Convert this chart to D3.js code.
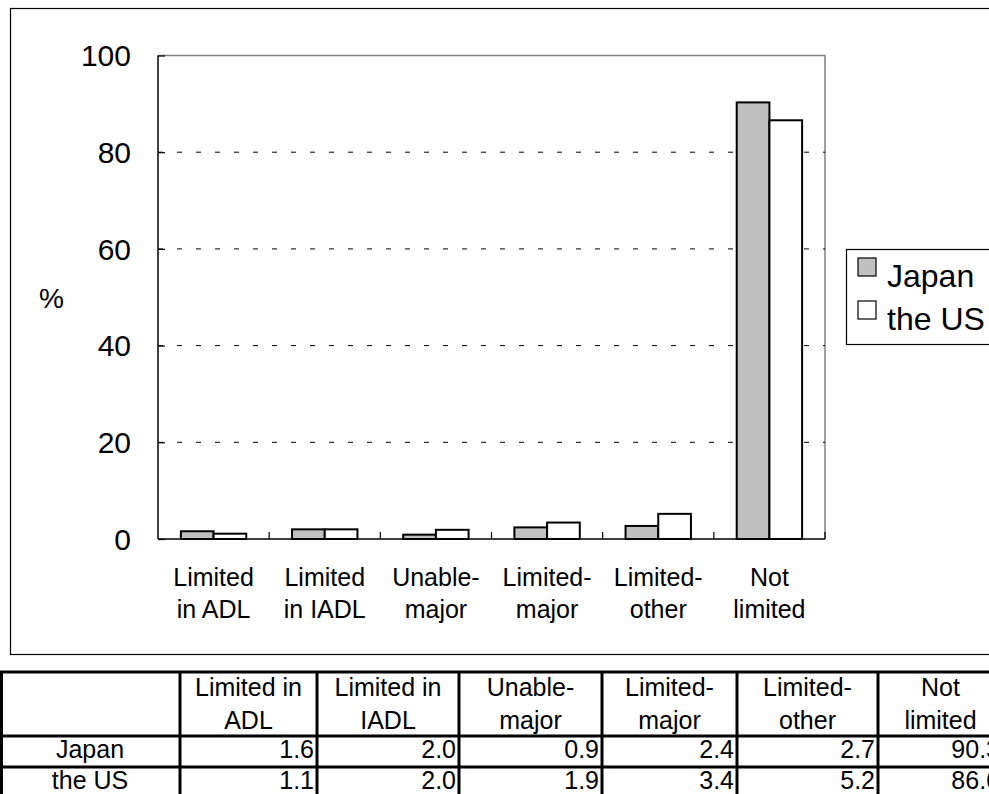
<!DOCTYPE html>
<html>
<head>
<meta charset="utf-8">
<script src="https://cdn.jsdelivr.net/npm/d3@7"></script>
<style>
  body { margin: 0; background: #fff; }
  svg { display: block; font-family: "Liberation Sans", Arial, sans-serif; }
</style>
</head>
<body>
<svg id="chart" width="989" height="794"></svg>
<script>
(function() {

  // categories (two lines each on the axis)
  var categories = ["Limited in ADL", "Limited in IADL", "Unable-major", "Limited-major", "Limited-other", "Not limited"];
  var axisLabels = [["Limited", "in ADL"], ["Limited", "in IADL"], ["Unable-", "major"], ["Limited-", "major"], ["Limited-", "other"], ["Not", "limited"]];
  var tableHeads = [["Limited in", "ADL"], ["Limited in", "IADL"], ["Unable-", "major"], ["Limited-", "major"], ["Limited-", "other"], ["Not", "limited"]];
  var series = ["Japan", "the US"];
  var japan = [1.6, 2.0, 0.9, 2.4, 2.7, 90.3];
  var us = [1.1, 2.0, 1.9, 3.4, 5.2, 86.6];
  var yTicks = [0, 20, 40, 60, 80, 100];
  var fills = ["#c0c0c0", "#ffffff"];

  var svg = d3.select("#chart");
  var values = [japan, us];

  // outer chart frame
  svg.append("rect")
      .attr("x", 10.5)
      .attr("y", 8.5)
      .attr("width", 1000)
      .attr("height", 646)
      .style("fill", "none")
      .style("stroke", "#000")
      .style("stroke-width", 1.2);

  var left = 158, right = 825, top = 55.5, bottom = 539;

  var x0 = d3.scaleBand().domain(categories).range([left, right]).padding(0);
  var x1 = d3.scaleBand().domain(series).range([0, x0.bandwidth()]).paddingInner(0).paddingOuter(0.7);
  var y = d3.scaleLinear().domain([0, 100]).range([bottom, top]);

  // grey top / right frame of the plot
  svg.append("path")
      .attr("d", "M" + left + "," + top + "H" + right + "V" + bottom)
      .style("fill", "none")
      .style("stroke", "#808080")
      .style("stroke-width", 1.5);

  // dashed gridlines
  svg.selectAll(".grid")
      .data(yTicks.filter(function(d) { return d > 0 && d < 100; }))
    .enter().append("line")
      .attr("class", "grid")
      .attr("x1", left)
      .attr("x2", right)
      .attr("y1", function(d) { return y(d); })
      .attr("y2", function(d) { return y(d); })
      .style("stroke", "#000")
      .style("stroke-width", 1)
      .style("stroke-dasharray", "5,14");

  // bars
  var groups = svg.selectAll(".cat")
      .data(categories)
    .enter().append("g")
      .attr("class", "cat")
      .attr("transform", function(d) { return "translate(" + x0(d) + ",0)"; });

  groups.selectAll("rect")
      .data(function(d, i) {
        return series.map(function(s, j) { return { s: s, v: values[j][i], j: j }; });
      })
    .enter().append("rect")
      .attr("x", function(d) { return x1(d.s); })
      .attr("width", x1.bandwidth())
      .attr("y", function(d) { return y(d.v); })
      .attr("height", function(d) { return y(0) - y(d.v); })
      .style("fill", function(d) { return fills[d.j]; })
      .style("stroke", "#000")
      .style("stroke-width", 2);

  // y axis
  var yAxis = svg.append("g")
      .attr("transform", "translate(" + left + ",0)")
      .call(d3.axisRight(y).tickValues(yTicks).tickSize(7).tickFormat(""));
  yAxis.select(".domain").remove();
  yAxis.selectAll("line").style("stroke", "#000").style("stroke-width", 1.2);
  svg.append("line")
      .attr("x1", left).attr("x2", left)
      .attr("y1", top).attr("y2", bottom)
      .style("stroke", "#000").style("stroke-width", 1.5);

  svg.selectAll(".ylab")
      .data(yTicks)
    .enter().append("text")
      .attr("class", "ylab")
      .attr("x", 131)
      .attr("y", function(d) { return y(d); })
      .attr("dy", "0.36em")
      .attr("text-anchor", "end")
      .style("font-size", "30px")
      .text(function(d) { return d; });

  svg.append("text")
      .attr("x", 39)
      .attr("y", 308)
      .style("font-size", "28px")
      .text("%");

  // x axis with small upward ticks between categories
  svg.append("line")
      .attr("x1", left).attr("x2", right)
      .attr("y1", bottom).attr("y2", bottom)
      .style("stroke", "#000").style("stroke-width", 1.5);

  svg.selectAll(".xtick")
      .data(categories.slice(1).concat(["end"]))
    .enter().append("line")
      .attr("class", "xtick")
      .attr("x1", function(d) { return d === "end" ? right : x0(d); })
      .attr("x2", function(d) { return d === "end" ? right : x0(d); })
      .attr("y1", bottom)
      .attr("y2", bottom - 7)
      .style("stroke", "#000").style("stroke-width", 1.2);

  var xl = svg.selectAll(".xlab")
      .data(categories)
    .enter().append("text")
      .attr("class", "xlab")
      .attr("text-anchor", "middle")
      .style("font-size", "25px");
  xl.append("tspan")
      .attr("x", function(d) { return x0(d) + x0.bandwidth() / 2; })
      .attr("y", 586)
      .text(function(d, i) { return axisLabels[i][0]; });
  xl.append("tspan")
      .attr("x", function(d) { return x0(d) + x0.bandwidth() / 2; })
      .attr("y", 618)
      .text(function(d, i) { return axisLabels[i][1]; });

  // legend
  svg.append("rect")
      .attr("x", 846.5)
      .attr("y", 249.5)
      .attr("width", 200)
      .attr("height", 95)
      .style("fill", "#fff")
      .style("stroke", "#000")
      .style("stroke-width", 1.2);

  var leg = svg.selectAll(".leg")
      .data(series)
    .enter().append("g")
      .attr("class", "leg")
      .attr("transform", function(d, i) { return "translate(858," + (258 + i * 43) + ")"; });
  leg.append("rect")
      .attr("width", 18)
      .attr("height", 18)
      .style("fill", function(d, i) { return fills[i]; })
      .style("stroke", "#000")
      .style("stroke-width", 1.2);
  leg.append("text")
      .attr("x", 29)
      .attr("y", 29)
      .style("font-size", "32px")
      .text(function(d) { return d; });

  // data table under the chart
  var colEdges = [0, 180, 317, 459, 602, 737, 878, 1003];
  var rowEdges = [672, 736, 767, 800];
  var table = svg.append("g").attr("class", "table");

  table.selectAll(".hline")
      .data(rowEdges)
    .enter().append("line")
      .attr("x1", 0).attr("x2", 1010)
      .attr("y1", function(d) { return d; })
      .attr("y2", function(d) { return d; })
      .style("stroke", "#000").style("stroke-width", 3);

  table.selectAll(".vline")
      .data(colEdges)
    .enter().append("line")
      .attr("x1", function(d) { return Math.max(d, 1.5); })
      .attr("x2", function(d) { return Math.max(d, 1.5); })
      .attr("y1", rowEdges[0]).attr("y2", 800)
      .style("stroke", "#000").style("stroke-width", 3);

  var th = table.selectAll(".th")
      .data(tableHeads)
    .enter().append("text")
      .attr("text-anchor", "middle")
      .style("font-size", "25px");
  th.append("tspan")
      .attr("x", function(d, i) { return (colEdges[i + 1] + colEdges[i + 2]) / 2; })
      .attr("y", 696)
      .text(function(d) { return d[0]; });
  th.append("tspan")
      .attr("x", function(d, i) { return (colEdges[i + 1] + colEdges[i + 2]) / 2; })
      .attr("y", 729)
      .text(function(d) { return d[1]; });

  var baselines = [758, 789];
  series.forEach(function(s, j) {
    table.append("text")
        .attr("x", colEdges[1] / 2)
        .attr("y", baselines[j])
        .attr("text-anchor", "middle")
        .style("font-size", "25px")
        .text(s);

    table.selectAll(".v" + j)
        .data(values[j])
      .enter().append("text")
        .attr("x", function(d, i) { return colEdges[i + 2] - 3; })
        .attr("y", baselines[j])
        .attr("text-anchor", "end")
        .style("font-size", "25px")
        .text(function(d) { return d3.format(".1f")(d); });
  });

})();
</script>
</body>
</html>
